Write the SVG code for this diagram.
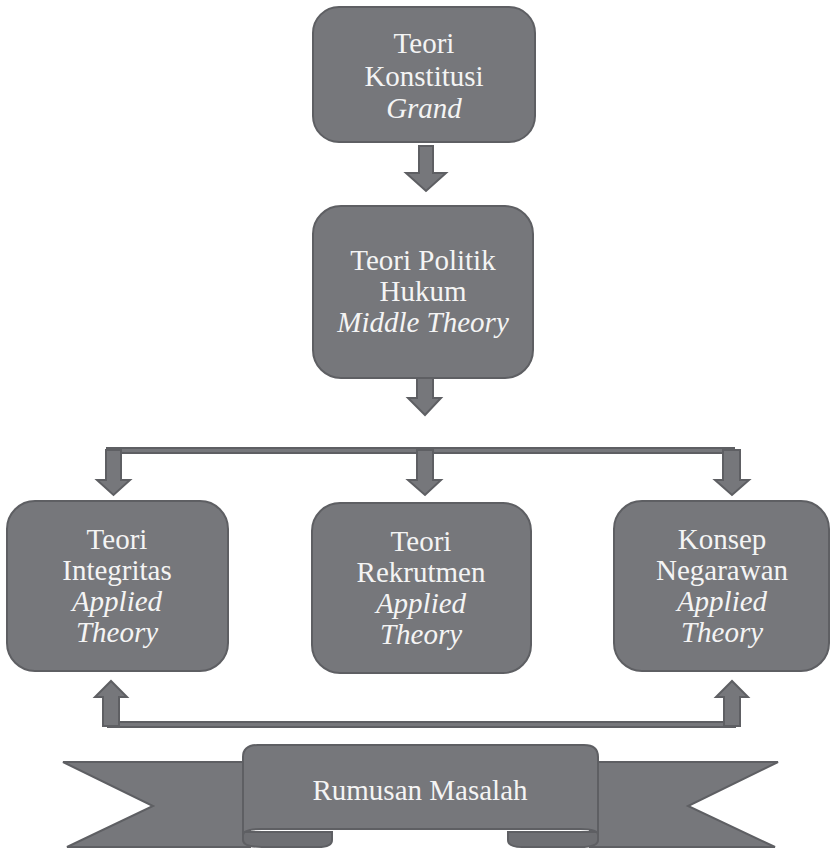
<svg xmlns="http://www.w3.org/2000/svg" width="831" height="848" viewBox="0 0 831 848">
<style>
.box{fill:#76777b;stroke:#5e5f63;stroke-width:2}
.arr{fill:#76777b;stroke:#5e5f63;stroke-width:2;stroke-linejoin:miter}
.fold{fill:#6e6f73;stroke:#5e5f63;stroke-width:2}
text{font-family:"Liberation Serif","Times New Roman",serif;font-size:29px;fill:#f4f4f4;text-anchor:middle}
.it{font-style:italic}
</style>
<rect width="831" height="848" fill="#ffffff"/>
<g id="connectors">
<path class="arr" d="M419,146 H433 V173 H446 L426,191 L406,173 H419 Z"/>
<path class="arr" d="M417,369 H433 V398 H441 L425,415 L408,398 H417 Z"/>
<rect class="arr" x="107" y="448" width="627" height="5"/>
<path class="arr" d="M106,450 H121 V480 H130 L113.5,495 L97,480 H106 Z"/>
<path class="arr" d="M417,450 H433 V480 H441 L425,495 L408,480 H417 Z"/>
<path class="arr" d="M723,450 H740 V480 H749 L732,495 L715,480 H723 Z"/>
<rect class="arr" x="108" y="722" width="627" height="5"/>
<path class="arr" d="M103,726 H119 V697 H127 L111,681 L95,697 H103 Z"/>
<path class="arr" d="M724,726 H740 V697 H748 L732,681 L716,697 H724 Z"/>
</g>
<g id="n1">
<rect class="box" x="313" y="7" width="222" height="135" rx="26"/>
<text x="424" y="53">Teori</text>
<text x="424" y="86">Konstitusi</text>
<text x="424" y="118" class="it">Grand</text>
</g>
<g id="n2">
<rect class="box" x="313" y="206" width="220" height="172" rx="28"/>
<text x="423" y="270">Teori Politik</text>
<text x="423" y="301">Hukum</text>
<text x="423" y="332" class="it">Middle Theory</text>
</g>
<g id="n3">
<rect class="box" x="7" y="501" width="221" height="170" rx="28"/>
<text x="117" y="549">Teori</text>
<text x="117" y="580">Integritas</text>
<text x="117" y="611" class="it">Applied</text>
<text x="117" y="642" class="it">Theory</text>
</g>
<g id="n4">
<rect class="box" x="312" y="503" width="219" height="170" rx="28"/>
<text x="421" y="551">Teori</text>
<text x="421" y="582">Rekrutmen</text>
<text x="421" y="613" class="it">Applied</text>
<text x="421" y="644" class="it">Theory</text>
</g>
<g id="n5">
<rect class="box" x="614" y="501" width="215" height="170" rx="28"/>
<text x="722" y="549">Konsep</text>
<text x="722" y="580">Negarawan</text>
<text x="722" y="611" class="it">Applied</text>
<text x="722" y="642" class="it">Theory</text>
</g>
<g id="n6">
<path class="box" d="M63,762 H250 V847 H67 L153,806 Z"/>
<path class="box" d="M590,762 H778 L688,806 L775,847 H590 Z"/>
<path class="fold" d="M243,832 V840 Q243,847 262,847 H318 Q332,847 332,840 V832 Z"/>
<path class="fold" d="M508,832 V840 Q508,847 522,847 H580 Q598,847 598,840 V832 Z"/>
<path class="box" d="M243,757 Q243,745 258,745 H584 Q598,745 598,757 V835 Q598,829 580,829 H262 Q243,829 243,835 Z"/>
<text x="420" y="800">Rumusan Masalah</text>
</g>
</svg>
